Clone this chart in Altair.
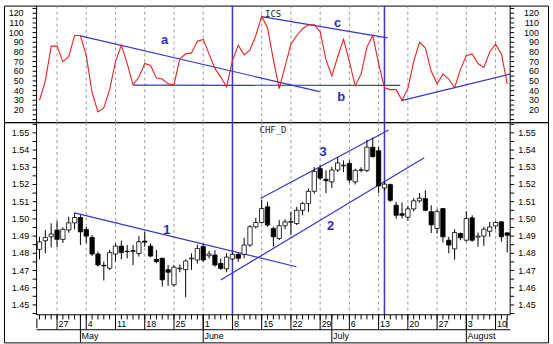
import altair as alt
import pandas as pd

# ---------------- data ----------------
day = list(range(81))  # trading days from 22 Apr 1998 to 12 Aug 1998
day_range = [-0.5, 80.5]  # plotted span of the day axis

ics = [30, 50, 86, 86, 70, 75, 97, 97, 76, 38,
       18, 22, 41, 70, 87, 68, 46, 54, 68, 66,
       53, 52, 47, 46, 73, 78, 79, 91, 93, 78,
       63, 54, 44, 71, 87, 77, 82, 97, 117, 105,
       72, 42, 65, 88, 97, 104, 108, 108, 101, 72,
       55, 75, 93, 70, 45, 57, 85, 97, 68, 43,
       41, 41, 30, 42, 70, 90, 84, 60, 47, 57,
       52, 43, 62, 76, 78, 68, 64, 80, 88, 78, 47]

opens = [1.4823, 1.4873, 1.4896, 1.4935, 1.4881, 1.4935, 1.4977, 1.5008, 1.4939, 1.4892,
         1.4796, 1.4730, 1.4713, 1.4796, 1.4842, 1.4812, 1.4815, 1.4799, 1.4871, 1.4842,
         1.4765, 1.4771, 1.4705, 1.4617, 1.4710, 1.4705, 1.4768, 1.4761, 1.4840, 1.4786,
         1.4790, 1.4741, 1.4710, 1.4767, 1.4794, 1.4794, 1.4848, 1.4954, 1.4979, 1.5070,
         1.4944, 1.4886, 1.4960, 1.4980, 1.4973, 1.5050, 1.5089, 1.5160, 1.5292, 1.5230,
         1.5215, 1.5284, 1.5308, 1.5322, 1.5215, 1.5282, 1.5282, 1.5417, 1.5396, 1.5180,
         1.5199, 1.5079, 1.5030, 1.5010, 1.5058, 1.5105, 1.5118, 1.5042, 1.4944, 1.5060,
         1.4876, 1.4826, 1.4915, 1.4876, 1.5006, 1.4894, 1.4900, 1.4928, 1.4959, 1.4983, 1.4919]
highs = [1.4896, 1.4935, 1.4974, 1.4989, 1.4950, 1.5012, 1.5035, 1.5022, 1.4954, 1.4906,
         1.4810, 1.4752, 1.4819, 1.4858, 1.4873, 1.4848, 1.4848, 1.4900, 1.4925, 1.4858,
         1.4819, 1.4775, 1.4732, 1.4732, 1.4735, 1.4765, 1.4799, 1.4850, 1.4855, 1.4813,
         1.4818, 1.4770, 1.4800, 1.4800, 1.4800, 1.4890, 1.4964, 1.5006, 1.5112, 1.5099,
         1.4954, 1.4993, 1.4998, 1.5041, 1.5070, 1.5099, 1.5176, 1.5301, 1.5310, 1.5282,
         1.5303, 1.5360, 1.5340, 1.5340, 1.5292, 1.5300, 1.5460, 1.5473, 1.5420, 1.5215,
         1.5205, 1.5099, 1.5095, 1.5075, 1.5120, 1.5150, 1.5166, 1.5079, 1.5056, 1.5060,
         1.4896, 1.4940, 1.4921, 1.5044, 1.5021, 1.4921, 1.4954, 1.4982, 1.4986, 1.4986, 1.4919]
lows = [1.4765, 1.4800, 1.4835, 1.4835, 1.4860, 1.4920, 1.4939, 1.4848, 1.4858, 1.4784,
        1.4723, 1.4642, 1.4703, 1.4752, 1.4765, 1.4771, 1.4732, 1.4781, 1.4838, 1.4777,
        1.4742, 1.4607, 1.4611, 1.4607, 1.4690, 1.4545, 1.4703, 1.4741, 1.4751, 1.4770,
        1.4722, 1.4703, 1.4690, 1.4760, 1.4751, 1.4771, 1.4838, 1.4944, 1.4973, 1.4954,
        1.4838, 1.4877, 1.4940, 1.4906, 1.4964, 1.5021, 1.5041, 1.5147, 1.5225, 1.5150,
        1.5180, 1.5272, 1.5272, 1.5210, 1.5200, 1.5272, 1.5272, 1.5355, 1.5150, 1.5166,
        1.5099, 1.5002, 1.5002, 1.4990, 1.5044, 1.5095, 1.5044, 1.4918, 1.4915, 1.4863,
        1.4800, 1.4763, 1.4876, 1.4867, 1.4867, 1.4838, 1.4844, 1.4896, 1.4940, 1.4867, 1.4805]
closes = [1.4867, 1.4892, 1.4912, 1.4881, 1.4939, 1.4977, 1.5008, 1.4925, 1.4900, 1.4796,
          1.4732, 1.4727, 1.4804, 1.4842, 1.4804, 1.4810, 1.4812, 1.4867, 1.4865, 1.4784,
          1.4752, 1.4646, 1.4690, 1.4719, 1.4714, 1.4755, 1.4772, 1.4828, 1.4761, 1.4796,
          1.4732, 1.4712, 1.4778, 1.4794, 1.4771, 1.4848, 1.4954, 1.4979, 1.5060, 1.4964,
          1.4896, 1.4960, 1.4983, 1.4985, 1.5050, 1.5089, 1.5160, 1.5276, 1.5237, 1.5222,
          1.5284, 1.5325, 1.5312, 1.5226, 1.5282, 1.5286, 1.5417, 1.5362, 1.5192, 1.5202,
          1.5108, 1.5021, 1.5021, 1.5058, 1.5105, 1.5120, 1.5050, 1.4965, 1.5044, 1.4896,
          1.4848, 1.4921, 1.4890, 1.5002, 1.4876, 1.4900, 1.4940, 1.4953, 1.4979, 1.4896, 1.4905]

monday_idx = [3, 8, 13, 18, 23, 28, 33, 38, 43, 48, 53, 58, 63, 68, 73, 78]
monday_lab = ["27", "4", "11", "18", "25", "1", "8", "15", "22", "29", "6", "13", "20", "27", "3", "10"]
month_idx = [7, 28, 50, 73]
month_lab = ["May", "June", "July", "August"]
marker_idx = [33, 59]

# trend lines (day index, value)
top_line_name = ["a", "a", "b", "b", "c", "c", "d", "d"]
top_line_i = [7.0, 47.9, 16.0, 61.7, 38.0, 59.5, 61.9, 80.5]
top_line_v = [96.7, 39.0, 45.6, 45.4, 116.6, 94.6, 29.7, 57.0]
top_text = ["a", "b", "c"]
top_text_i = [21.4, 51.6, 51.0]
top_text_v = [92.2, 33.1, 110.4]

bot_line_name = ["1", "1", "2", "2", "3", "3"]
bot_line_i = [6.0, 43.95, 31.0, 65.8, 37.8, 59.7]
bot_line_v = [1.5035, 1.4722, 1.4645, 1.5355, 1.5118, 1.5517]
bot_text = ["1", "2", "3"]
bot_text_i = [21.8, 49.8, 48.5]
bot_text_v = [1.4935, 1.4958, 1.5388]

# value-axis ticks and labels
top_ticks = [10 + 5 * k for k in range(24)]
top_tick_lab = [str(v) if (v % 10 == 0 and 20 <= v <= 120) else "" for v in top_ticks]
bot_ticks = [round(1.445 + 0.005 * k, 3) for k in range(23)]
bot_tick_lab = ["%.2f" % v if round(v * 1000) % 10 == 0 else "" for v in bot_ticks]

# ---------------- style ----------------
W = 546
H_TOP = 117
H_BOT = 221
H_PRICE = 193.3
BLUE = "#3535cc"
TXTBLUE = "#2b2bc0"
RED = "#e8221e"
GRID = "#9a9a9a"
FONT = "Liberation Sans"
TICK_DAYS = 4 / 5.868  # 4 px in day units

xs = alt.Scale(domain=[-6.073, 86.974], nice=False, zero=False)
ys_top = alt.Scale(domain=[7.32, 127.94], nice=False, zero=False)
ys_bot = alt.Scale(domain=[1.42823, 1.55620], nice=False, zero=False)


def X(f):
    return alt.X(f, type="quantitative", scale=xs, axis=None)


def YT(f):
    return alt.Y(f, type="quantitative", scale=ys_top, axis=None)


def YB(f):
    return alt.Y(f, type="quantitative", scale=ys_bot, axis=None)


one = pd.DataFrame({"t": ["x"]})
span = pd.DataFrame({"a": [day_range[0]], "b": [day_range[1]]})
edges = pd.DataFrame({"i": day_range})
ics_df = pd.DataFrame({"i": day, "v": ics})
mon_df = pd.DataFrame({"i": monday_idx, "lab": monday_lab})
month_df = pd.DataFrame({"i": month_idx, "lab": month_lab})
mark_df = pd.DataFrame({"i": marker_idx})
ttop = pd.DataFrame({"name": top_line_name, "i": top_line_i, "v": top_line_v})
ltop = pd.DataFrame({"name": top_text, "i": top_text_i, "v": top_text_v})
tbot = pd.DataFrame({"name": bot_line_name, "i": bot_line_i, "v": bot_line_v})
lbot = pd.DataFrame({"name": bot_text, "i": bot_text_i, "v": bot_text_v})
ohlc = pd.DataFrame({"i": day, "o": opens, "h": highs, "l": lows, "c": closes})
days_df = pd.DataFrame({"i": day})
ax_top = pd.DataFrame({"v": top_ticks, "lab": top_tick_lab, "l": day_range[0], "r": day_range[1]})
ax_bot = pd.DataFrame({"v": bot_ticks, "lab": bot_tick_lab, "l": day_range[0], "r": day_range[1]})
ends = pd.DataFrame({"i": [day_range[0] + 0.05, day[-1] - 0.05]})


def value_axis(df, Y, pad_left, pad_right):
    calc = {"l2": "datum.l - %f" % TICK_DAYS, "r2": "datum.r + %f" % TICK_DAYS}
    lt = alt.Chart(df).transform_calculate(**calc).mark_rule(color="black").encode(
        x=X("l"), x2="l2:Q", y=Y("v"))
    rt = alt.Chart(df).transform_calculate(**calc).mark_rule(color="black").encode(
        x=X("r"), x2="r2:Q", y=Y("v"))
    ll = alt.Chart(df).mark_text(align="right", baseline="middle", dx=-pad_left, font=FONT,
                                 fontSize=9, color="black").encode(x=X("l"), y=Y("v"), text="lab:N")
    rl = alt.Chart(df).mark_text(align="right", baseline="middle", dx=pad_right, font=FONT,
                                 fontSize=9, color="black").encode(x=X("r"), y=Y("v"), text="lab:N")
    return [lt, rt, ll, rl]


# ---------------- top panel ----------------
t_grid = alt.Chart(mon_df).mark_rule(color=GRID, strokeDash=[3, 3]).encode(
    x=X("i"), y=alt.value(0), y2=alt.value(H_TOP))
t_mark = alt.Chart(mark_df).mark_rule(color=BLUE, strokeWidth=1.5).encode(
    x=X("i"), y=alt.value(0), y2=alt.value(H_TOP))
t_frame = alt.Chart(edges).mark_rule(color="black").encode(
    x=X("i"), y=alt.value(0), y2=alt.value(H_TOP))
t_trend = alt.Chart(ttop).mark_line(color=BLUE, strokeWidth=1.2).encode(
    x=X("i"), y=YT("v"), detail="name:N")
t_red = alt.Chart(ics_df).mark_line(color=RED, strokeWidth=1.1).encode(x=X("i"), y=YT("v"))
t_text = alt.Chart(ltop).mark_text(color=TXTBLUE, font=FONT, fontSize=13, fontWeight="bold").encode(
    x=X("i"), y=YT("v"), text="name:N")
t_title = alt.Chart(one).mark_text(align="left", baseline="middle", font="DejaVu Sans Mono",
                                   fontSize=9, color="#222", text="ICS").encode(
    x=alt.value(262), y=alt.value(8.7))

top = alt.layer(t_grid, t_mark, t_frame, t_trend, t_red, t_text, t_title,
                *value_axis(ax_top, YT, 13, 29)).properties(width=W, height=H_TOP)

# ---------------- bottom panel ----------------
b_grid = alt.Chart(mon_df).mark_rule(color=GRID, strokeDash=[3, 3]).encode(
    x=X("i"), y=alt.value(0), y2=alt.value(H_PRICE))
b_mark = alt.Chart(mark_df).mark_rule(color=BLUE, strokeWidth=1.5).encode(
    x=X("i"), y=alt.value(0), y2=alt.value(H_PRICE))
b_frame = alt.Chart(edges).mark_rule(color="black").encode(
    x=X("i"), y=alt.value(0), y2=alt.value(H_PRICE))
b_trend = alt.Chart(tbot).mark_line(color=BLUE, strokeWidth=1.2).encode(
    x=X("i"), y=YB("v"), detail="name:N")
b_wick = alt.Chart(ohlc).mark_rule(color="black", strokeWidth=1).encode(
    x=X("i"), y=YB("l"), y2="h:Q")
b_body = alt.Chart(ohlc).transform_calculate(
    xa="datum.i - 0.37", xb="datum.i + 0.37", up="datum.c >= datum.o ? 'up' : 'down'"
).mark_rect(stroke="black", strokeWidth=0.8).encode(
    x=X("xa"), x2="xb:Q", y=YB("o"), y2="c:Q",
    fill=alt.Fill("up:N", scale=alt.Scale(domain=["up", "down"], range=["white", "black"]), legend=None))
b_text = alt.Chart(lbot).mark_text(color=TXTBLUE, font=FONT, fontSize=13, fontWeight="bold").encode(
    x=X("i"), y=YB("v"), text="name:N")
b_title = alt.Chart(one).mark_text(align="left", baseline="middle", font="DejaVu Sans Mono",
                                   fontSize=9, color="#222", text="CHF_D").encode(
    x=alt.value(256.5), y=alt.value(7.7))

# date axis rows
ax_line = alt.Chart(span).mark_rule(color="black").encode(
    x=X("a"), x2="b:Q", y=alt.value(H_PRICE))
row_line = alt.Chart(span).mark_rule(color="black").encode(
    x=X("a"), x2="b:Q", y=alt.value(208.3))
minor = alt.Chart(days_df).mark_rule(color="black").encode(
    x=X("i"), y=alt.value(H_PRICE), y2=alt.value(198))
major = alt.Chart(mon_df).mark_rule(color="black").encode(
    x=X("i"), y=alt.value(H_PRICE), y2=alt.value(208.3))
edge_ticks = alt.Chart(ends).mark_rule(color="black").encode(
    x=X("i"), y=alt.value(197), y2=alt.value(206.7))
day_text = alt.Chart(mon_df).mark_text(align="left", baseline="middle", dx=1.5, font=FONT,
                                       fontSize=9, color="black").encode(
    x=X("i"), y=alt.value(202.6), text="lab:N")
mon_sep = alt.Chart(month_df).mark_rule(color="black").encode(
    x=X("i"), y=alt.value(H_PRICE), y2=alt.value(H_BOT))
mon_text = alt.Chart(month_df).mark_text(align="left", baseline="middle", dx=1.2, font=FONT,
                                         fontSize=9, color="black").encode(
    x=X("i"), y=alt.value(214.6), text="lab:N")

bottom = alt.layer(b_grid, b_mark, b_frame, b_trend, b_wick, b_body, b_text, b_title,
                   *value_axis(ax_bot, YB, 7.4, 25.7),
                   ax_line, row_line, minor, major, edge_ticks, day_text,
                   mon_sep, mon_text).properties(width=W, height=H_BOT)

chart = alt.vconcat(top, bottom, spacing=0, bounds="flush").properties(
    padding={"left": 3, "top": 3, "right": 4, "bottom": 3}, background="white"
).configure_view(stroke="black", strokeWidth=1)

chart.save("out.html", embed_options={"renderer": "svg", "actions": False})
